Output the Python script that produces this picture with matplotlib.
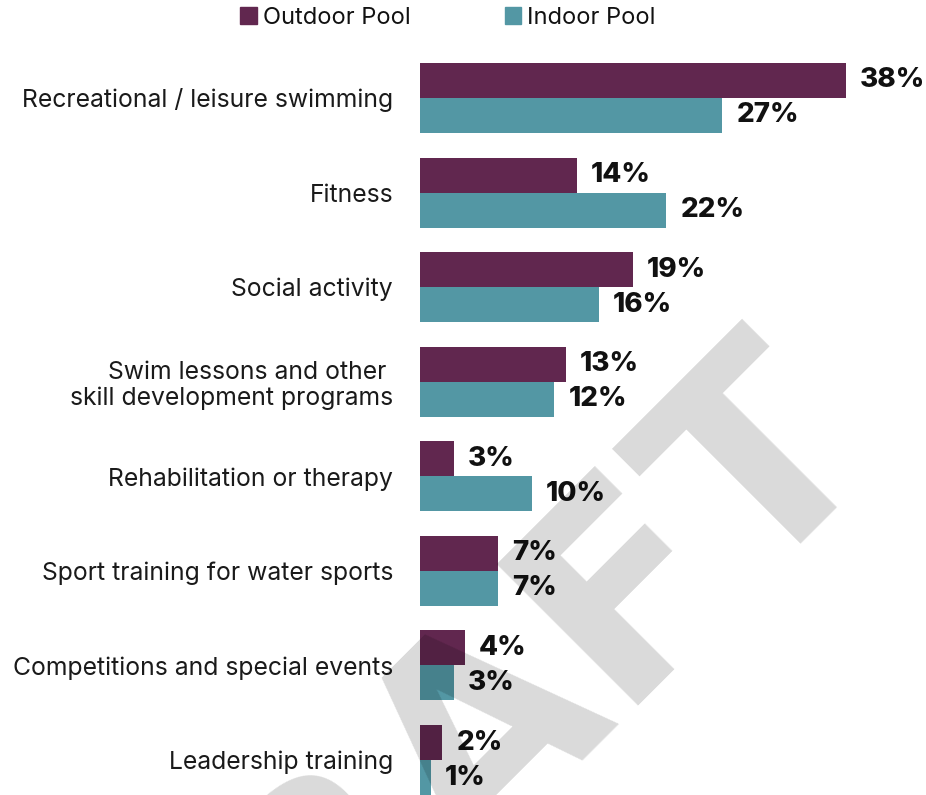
import matplotlib
matplotlib.use('Agg')
import matplotlib.pyplot as plt
from matplotlib.patches import Patch
import numpy as np

categories = ["Recreational / leisure swimming", "Fitness", "Social activity",
              "Swim lessons and other \nskill development programs",
              "Rehabilitation or therapy", "Sport training for water sports",
              "Competitions and special events", "Leadership training"]
outdoor = [38, 14, 19, 13, 3, 7, 4, 2]
indoor = [27, 22, 16, 12, 10, 7, 3, 1]
series_names = ["Outdoor Pool", "Indoor Pool"]
colors = ["#61274f", "#5397a4"]

plt.rcParams['font.family'] = ['Inter', 'DejaVu Sans']
fig = plt.figure(figsize=(9.26, 7.95), dpi=100)
ax = fig.add_axes([420/926, 0, 504/926, 1])
y = np.arange(len(categories))
h = 0.37
ax.barh(y - h/2, outdoor, height=h, color=colors[0], zorder=2)
ax.barh(y + h/2, indoor, height=h, color=colors[1], zorder=2)
ax.set_xlim(0, 45)
ax.set_ylim(7.37, -1.036)

for vals, off in ((outdoor, -h/2), (indoor, h/2)):
    for yy, v in zip(y, vals):
        ax.annotate(f"{v}%", (v, yy + off), xytext=(14, 0), textcoords='offset pixels',
                    va='center', ha='left', fontsize=20, fontweight='heavy', color='#111111',
                    zorder=5)

ax.set_yticks(y)
ax.set_yticklabels(categories, fontsize=17.8, color='#1a1a1a', linespacing=1.15)
ax.tick_params(axis='y', length=0, pad=19.4)
ax.set_xticks([])
for s in ax.spines.values():
    s.set_visible(False)

handles = [Patch(color=c, label=n) for c, n in zip(colors, series_names)]
fig.legend(handles=handles, loc='center', bbox_to_anchor=(448/926, 1 - 18/795), ncol=2,
           frameon=False, fontsize=17, handlelength=0.7, handleheight=0.7,
           handletextpad=0.25, columnspacing=4.0, labelcolor='#111111')

fig.text(516/926, 1 - 802/795, "DRAFT", rotation=45, rotation_mode='anchor',
         fontsize=197, fontweight='bold', family='DejaVu Sans', color='black', alpha=0.15,
         ha='center', va='baseline', zorder=10)

fig.savefig('out.png', dpi=100)
